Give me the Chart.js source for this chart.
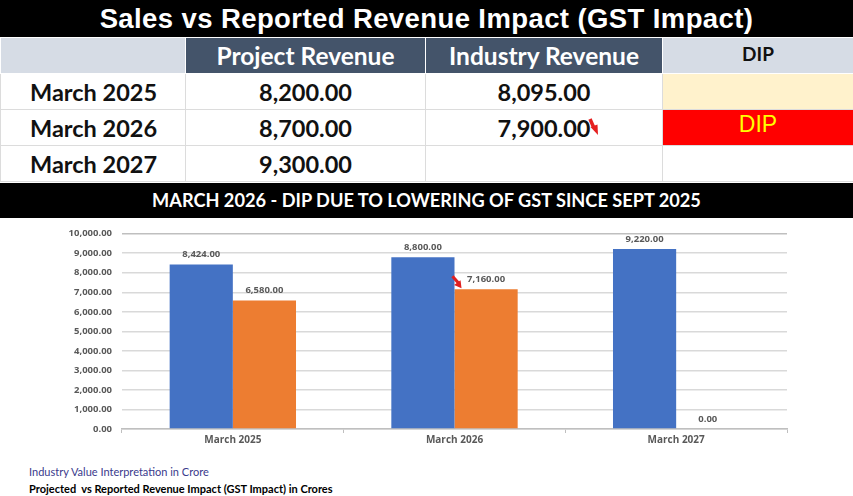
<!DOCTYPE html>
<html lang="en">
<head>
<meta charset="UTF-8">
<title>Sales vs Reported Revenue Impact (GST Impact)</title>
<script src="https://cdn.jsdelivr.net/npm/chart.js@4.4.0/dist/chart.umd.min.js"></script>
<style>
  html, body { margin: 0; padding: 0; background: #fff; }
  body { width: 853px; height: 496px; position: relative; overflow: hidden; font-family: Lato, "Open Sans", sans-serif; }
  .bar { position: absolute; left: 0; width: 853px; background: #000; color: #fff; text-align: center; font-weight: bold; }
  #title { top: 0; height: 37px; line-height: 37px; font-family: "Liberation Sans", Arial, sans-serif; font-size: 27.5px; letter-spacing: 0.4px; }
  #note { top: 183px; height: 35px; line-height: 35px; font-size: 18.2px; }
  table { position: absolute; left: 0; top: 37px; border-collapse: collapse; table-layout: fixed; width: 853px; }
  td { height: 35px; padding: 0; border: 1px solid #dcdcdc; text-align: center; font-weight: bold; font-size: 23.5px; color: #111; position: relative; }
  tr.head td { border-color: #fff; }
  .lg { background: #d6dce5; }
  .dk { background: #44546a; color: #fff; font-size: 24.5px; }
  .cream { background: #fff2cc; }
  .red { background: #ff0000; color: #ffff00; font-weight: normal; font-family: "Liberation Sans", Arial, sans-serif; font-size: 23px; }
  .left { text-align: left; padding-left: 29px; }
  .arrow { position: absolute; }
  #wrap { position: absolute; left: 0; top: 218px; width: 853px; height: 231px; }
  .foot { position: absolute; left: 29px; font-size: 11px; }
</style>
</head>
<body>
<div class="bar" id="title">Sales vs Reported Revenue Impact (GST Impact)</div>
<table>
  <colgroup><col style="width:185px"><col style="width:240px"><col style="width:237px"><col style="width:191px"></colgroup>
  <tr class="head">
    <td class="lg"></td>
    <td class="dk">Project Revenue</td>
    <td class="dk">Industry Revenue</td>
    <td class="lg" style="font-size:19px;vertical-align:top;padding-top:4px;height:31px">DIP</td>
  </tr>
  <tr>
    <td class="left">March 2025</td>
    <td>8,200.00</td>
    <td>8,095.00</td>
    <td class="cream"></td>
  </tr>
  <tr>
    <td class="left">March 2026</td>
    <td>8,700.00</td>
    <td>7,900.00<svg class="arrow" style="left:162px;top:8px" width="12" height="18" viewBox="0 0 12 18"><path d="M2 1 L5.5 9" stroke="#e52020" stroke-width="3.5" fill="none"/><path d="M2.5 9 L9.5 6.5 L10 17 Z" fill="#e52020"/></svg></td>
    <td class="red" style="vertical-align:top;padding-top:1px;height:34px">DIP</td>
  </tr>
  <tr>
    <td class="left">March 2027</td>
    <td>9,300.00</td>
    <td></td>
    <td></td>
  </tr>
</table>
<div class="bar" id="note">MARCH 2026 - DIP DUE TO LOWERING OF GST SINCE SEPT 2025</div>

<div id="wrap"><canvas id="c"></canvas></div>

<div class="foot" style="top:465px;color:#3a3a8c">Industry Value Interpretation in Crore</div>
<div class="foot" style="top:482px;font-weight:bold;color:#000">Projected&nbsp; vs Reported Revenue Impact (GST Impact) in Crores</div>

<script>
// chart data
const categories = ['March 2025', 'March 2026', 'March 2027'];
const projectedValues = [8424, 8800, 9220];
const reportedValues = [6580, 7160, 0];
const yTicks = [0, 1000, 2000, 3000, 4000, 5000, 6000, 7000, 8000, 9000, 10000];

const fmt = v => v.toLocaleString('en-US', { minimumFractionDigits: 2, maximumFractionDigits: 2 });
const labelFont = '"Open Sans", sans-serif';

// value labels above the bars + red dip arrow
const barLabels = {
  id: 'barLabels',
  afterDatasetsDraw(chart) {
    const ctx = chart.ctx;
    ctx.save();
    ctx.font = 'bold 9.5px ' + labelFont;
    ctx.fillStyle = '#595959';
    ctx.textAlign = 'center';
    ctx.textBaseline = 'bottom';
    chart.data.datasets.forEach((ds, i) => {
      chart.getDatasetMeta(i).data.forEach((el, j) => {
        ctx.fillText(fmt(ds.data[j]), el.x, el.y - 5);
      });
    });
    // arrow at the March 2026 reported bar
    const el = chart.getDatasetMeta(1).data[1];
    const x0 = el.x - el.width / 2;
    const sx = x0 - 2, sy = el.y - 13, ex = x0 + 7, ey = el.y - 1;
    ctx.strokeStyle = '#e02020';
    ctx.fillStyle = '#e02020';
    ctx.lineWidth = 3;
    ctx.beginPath();
    ctx.moveTo(sx, sy);
    ctx.lineTo(ex - 2, ey - 4);
    ctx.stroke();
    const a = Math.atan2(ey - sy, ex - sx);
    ctx.beginPath();
    ctx.moveTo(ex, ey);
    ctx.lineTo(ex - 7 * Math.cos(a) + 4 * Math.sin(a), ey - 7 * Math.sin(a) - 4 * Math.cos(a));
    ctx.lineTo(ex - 7 * Math.cos(a) - 4 * Math.sin(a), ey - 7 * Math.sin(a) + 4 * Math.cos(a));
    ctx.closePath();
    ctx.fill();
    ctx.restore();
  }
};

new Chart(document.getElementById('c'), {
  type: 'bar',
  data: {
    labels: categories,
    datasets: [
      { label: 'Projected', data: projectedValues, backgroundColor: '#4472c4', barPercentage: 1, categoryPercentage: 0.57 },
      { label: 'Reported', data: reportedValues, backgroundColor: '#ed7d31', barPercentage: 1, categoryPercentage: 0.57 }
    ]
  },
  options: {
    responsive: true,
    maintainAspectRatio: false,
    animation: false,
    layout: { padding: { top: 6, right: 66, left: 0, bottom: 0 } },
    plugins: { legend: { display: false }, tooltip: { enabled: false } },
    scales: {
      x: {
        grid: { display: true, offset: true, drawOnChartArea: false, tickLength: 4, color: '#bfbfbf' },
        border: { color: '#bfbfbf', width: 1.5 },
        ticks: { color: '#595959', font: { family: labelFont, size: 10, weight: 'bold' }, padding: 1 },
        afterFit(s) { s.height = 20; }
      },
      y: {
        min: 0, max: 10000,
        afterBuildTicks(s) { s.ticks = yTicks.map(v => ({ value: v })); },
        grid: { color: ctx => ctx.tick && ctx.tick.value === 10000 ? '#bfbfbf' : '#d9d9d9', lineWidth: 1.5, drawTicks: false },
        border: { display: false },
        ticks: { color: '#595959', font: { family: labelFont, size: 9.5, weight: 'bold' }, padding: 10, callback: v => fmt(v) },
        afterFit(s) { s.width = 122; }
      }
    }
  },
  plugins: [barLabels]
});
</script>
</body>
</html>
